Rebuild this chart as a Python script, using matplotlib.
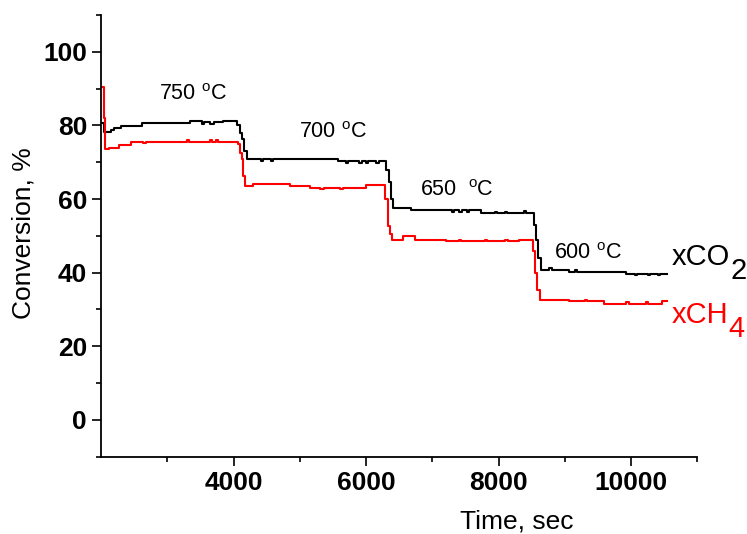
import matplotlib
matplotlib.use("Agg")
import matplotlib.pyplot as plt

plt.rcParams["font.family"] = ["Liberation Sans", "DejaVu Sans"]
plt.rcParams["mathtext.default"] = "regular"

# conversion readings: time (s) at which the logged value changes, and the new value (%)
co2_t = [2020, 2050, 2146, 2196, 2296, 2622, 3349, 3520, 3560, 3640, 3700, 3840,
         4051, 4090, 4126, 4160, 4201,
         4420, 4450, 4560, 4590, 5582, 5700, 5730, 5900, 5940, 6000, 6030, 6150, 6190,
         6307, 6341, 6375, 6406,
         6683, 7300, 7330, 7400, 7440, 7520, 7550, 7735, 7950, 7980, 8100, 8130, 8380, 8410,
         8526, 8562, 8600, 8637,
         8760, 8800, 9063, 9150, 9180, 9916, 10050, 10080, 10250, 10280, 10400, 10430, 10536]
co2_v = [80.6, 78.1, 78.8, 79.3, 79.8, 80.6, 81.2, 80.4, 81.0, 80.5, 80.9, 81.3,
         80.2, 78.0, 76.3, 73.0, 70.8,
         70.3, 70.8, 70.4, 70.8, 70.3, 69.8, 70.3, 69.9, 70.3, 69.8, 70.3, 69.9, 70.3,
         68.0, 64.5, 60.0, 57.7,
         56.9, 56.4, 56.9, 56.4, 56.9, 56.5, 56.9, 56.2, 56.6, 56.2, 56.6, 56.2, 56.7, 56.2,
         53.0, 49.0, 44.0, 40.8,
         41.3, 40.8, 40.1, 40.6, 40.1, 39.7, 39.3, 39.7, 39.3, 39.7, 39.3, 39.7, 39.7]

ch4_t = [2020, 2040, 2060, 2120, 2271, 2447, 2640, 2680, 3300, 3330, 3640, 3670, 3740, 3770,
         4060, 4100, 4125, 4150, 4176,
         4300, 4853, 5153, 5300, 5360, 5600, 5650, 6006,
         6292, 6331, 6365, 6391,
         6556, 6732, 7209, 7400, 7430, 7800, 7830, 8100, 8140, 8300,
         8511, 8547, 8577, 8622,
         9063, 9300, 9330, 9597, 9916, 9960, 10216, 10260, 10461, 10536]
ch4_v = [90.4, 82.0, 73.6, 74.0, 74.8, 75.6, 75.1, 75.6, 76.0, 75.6, 76.0, 75.6, 76.0, 75.6,
         75.0, 72.5, 70.8, 66.3, 63.6,
         64.0, 63.5, 63.1, 62.8, 63.1, 62.7, 63.1, 63.7,
         60.0, 52.7, 50.5, 49.0,
         49.9, 49.0, 48.6, 49.0, 48.6, 48.9, 48.6, 49.0, 48.6, 48.9,
         46.0, 40.0, 35.4, 32.7,
         32.2, 32.5, 32.2, 31.6, 32.1, 31.6, 32.1, 31.6, 32.2, 32.2]

temp_labels = ["750 $^{o}$C", "700 $^{o}$C", "650  $^{o}$C", "600 $^{o}$C"]
temp_x = [2868, 4988, 6818, 8830]
temp_y = [87.0, 76.5, 60.8, 43.8]


def main():
    fig = plt.figure(figsize=(7.47, 5.34), dpi=100)
    ax = fig.add_axes([0.1352, 0.1448, 0.7985, 0.8271])

    ax.plot(co2_t, co2_v, drawstyle="steps-post", color="black", lw=1.5)
    ax.plot(ch4_t, ch4_v, drawstyle="steps-post", color="red", lw=1.5)

    for label, x, y in zip(temp_labels, temp_x, temp_y):
        ax.text(x, y, label, fontsize=15.5, ha="left", va="baseline")

    t_co2 = ax.text(10617, 42.2, "xCO", fontsize=21, ha="left", va="baseline",
                    clip_on=False)
    ax.annotate("2", xy=(1.0, 0.0), xycoords=t_co2, fontsize=21,
                ha="left", va="center", annotation_clip=False)
    t_ch4 = ax.text(10617, 26.4, "xCH", fontsize=21, ha="left", va="baseline",
                    color="red", clip_on=False)
    ax.annotate("4", xy=(1.0, 0.0), xycoords=t_ch4, fontsize=21, color="red",
                ha="left", va="center", annotation_clip=False)

    ax.set_xlim(2000, 11000)
    ax.set_ylim(-10, 110)
    ax.set_xticks([4000, 6000, 8000, 10000])
    ax.set_xticks([3000, 5000, 7000, 9000, 11000], minor=True)
    ax.set_yticks([0, 20, 40, 60, 80, 100])
    ax.set_yticks([-10, 10, 30, 50, 70, 90, 110], minor=True)

    for side in ("top", "right"):
        ax.spines[side].set_visible(False)
    for side in ("left", "bottom"):
        ax.spines[side].set_linewidth(1.3)

    ax.tick_params(which="major", length=6.5, width=1.2, pad=3.5, labelsize=19)
    ax.tick_params(which="minor", length=3.6, width=1.2)
    for lab in ax.get_xticklabels() + ax.get_yticklabels():
        lab.set_fontweight("bold")

    ax.set_xlabel("Time, sec", fontsize=19)
    ax.set_ylabel("Conversion, %", fontsize=19)
    ax.xaxis.set_label_coords(0.697, -0.12)
    ax.yaxis.set_label_coords(-0.11, 0.506)

    fig.savefig("out.png", dpi=100)
    plt.close(fig)


if __name__ == "__main__":
    main()
